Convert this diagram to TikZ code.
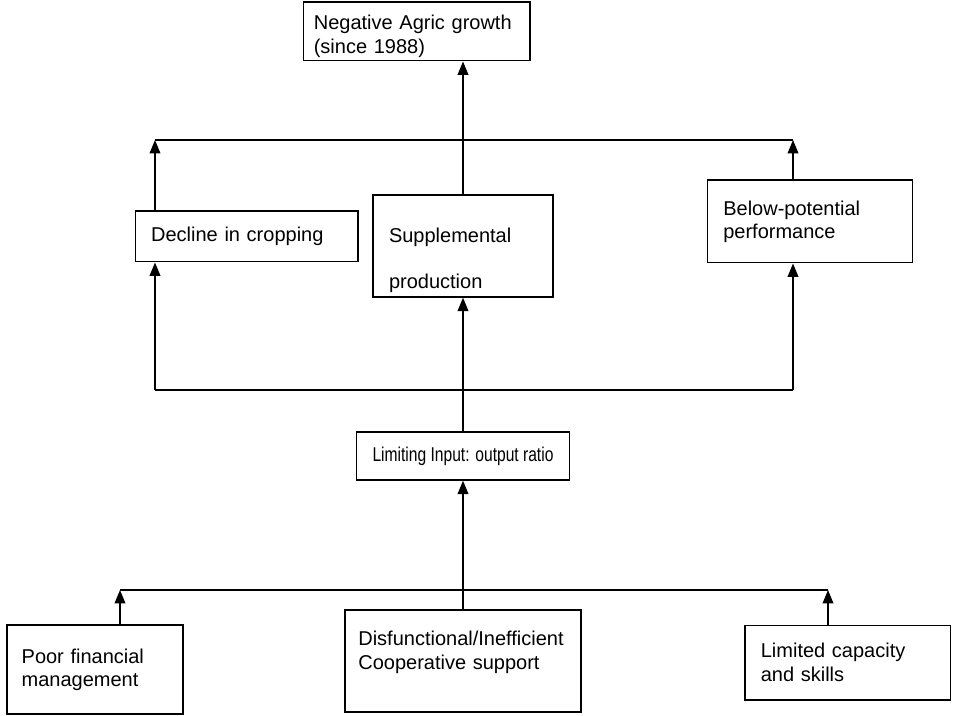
\documentclass[tikz,border=0pt]{standalone}
\usepackage{fontspec}
\setmainfont{Liberation Sans}
\newfontfamily\narrowfont[FakeStretch=0.78]{Liberation Sans}
\usetikzlibrary{arrows.meta}

\begin{document}
\begin{tikzpicture}[%
        x=0.75pt, y=-0.75pt,
        >={Triangle[length=10pt,width=8pt]},
        line width=1pt,
        cell/.style={draw, align=left, inner xsep=12pt, inner ysep=2pt,
            font={\fontsize{15}{17.5}\selectfont}}
        ]
        \useasboundingbox (0,0) rectangle (962,716);

        \node[cell, inner xsep=8pt, text width=154pt, minimum height=44pt] (neg) at (416.5,31.5) {\rule{0pt}{18pt}Negative Agric growth\\(since 1988)};
        \node[cell, text width=143pt, minimum height=38pt] (dec) at (246.5,236.5) {Decline in cropping};
        \node[cell, text width=111pt, minimum height=76.5pt] (sup) at (463,246) {\rule{0pt}{32pt}Supplemental\\[17pt]production};
        \node[cell, text width=130pt, minimum height=62pt] (bel) at (810,221.5) {Below-potential\\performance};
        \node[cell, minimum width=156pt, minimum height=36pt, font={\narrowfont\fontsize{15}{17.5}\selectfont}] (lim) at (463,456) {Limiting Input: output ratio};
        \node[cell, inner xsep=11pt, text width=110pt, minimum height=66.75pt] (poor) at (95,669.5) {Poor financial\\management};
        \node[cell, inner xsep=10pt, text width=157pt, minimum height=76.5pt] (dis) at (463,661) {Disfunctional/Inefficient\\Cooperative support\rule[-16pt]{0pt}{16pt}};
        \node[cell, text width=130pt, minimum height=56pt] (lcap) at (847.5,662.5) {Limited capacity\\and skills};

        % upper bar
        \coordinate (jl) at (155,140);
        \coordinate (jr) at (793,140);
        \draw (jl) -- (jr);
        \draw[->] (jl |- dec.north) -- (jl);
        \draw[->] (jr |- bel.north) -- (jr);
        \draw[->] (sup.north) -- (neg.south -| sup.north);

        % middle bar
        \coordinate (kl) at (155,390);
        \coordinate (kr) at (793,390);
        \draw (kl) -- (kr);
        \draw[->] (kl) -- (kl |- dec.south);
        \draw[->] (kr) -- (kr |- bel.south);
        \draw[->] (lim.north) -- (sup.south);

        % bottom bar
        \coordinate (ml) at (120,590);
        \coordinate (mr) at (828,590);
        \draw (ml) -- (mr);
        \draw[->] (ml |- poor.north) -- (ml);
        \draw[->] (mr |- lcap.north) -- (mr);
        \draw[->] (dis.north) -- (lim.south);

    \end{tikzpicture}
\end{document}
